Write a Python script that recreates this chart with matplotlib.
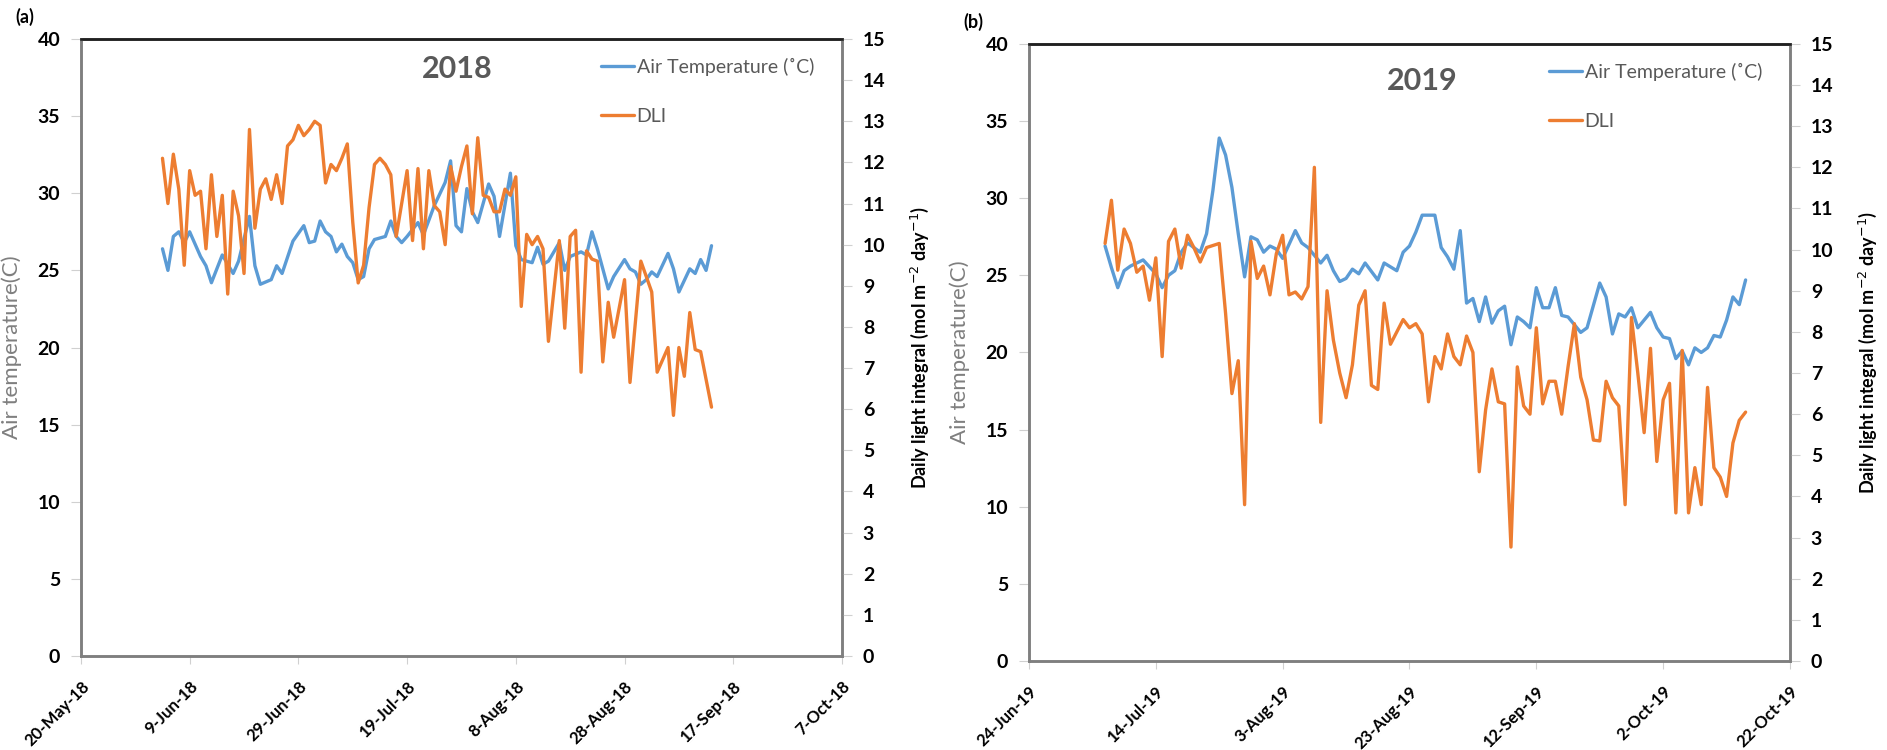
import matplotlib
matplotlib.use('Agg')
import matplotlib.pyplot as plt
import pandas as pd

plt.rcParams['font.family'] = ['Lato', 'DejaVu Sans']

# 2018: day offsets from 20-May-18
start18 = '2018-05-20'
temp18_day = [15, 16, 17, 18, 19, 20, 22, 23, 24, 26, 28, 29, 31, 32, 33, 35, 36, 37, 39, 41,
              42, 43, 44, 45, 46, 47, 48, 49, 50, 51, 52, 53, 54, 56, 57, 58, 59, 60, 62, 63,
              65, 67, 68, 69, 70, 71, 72, 73, 75, 76, 77, 79, 80, 81, 83, 84, 85, 86, 88, 89,
              90, 92, 93, 94, 95, 97, 98, 100, 101, 102, 103, 104, 105, 106, 108, 109, 110, 112,
              113, 114, 115, 116]
temp18 = [26.4, 25.0, 27.2, 27.5, 26.8, 27.5, 25.9, 25.3, 24.2, 26.0, 24.8, 25.6, 28.5, 25.3,
          24.1, 24.4, 25.3, 24.8, 26.9, 27.9, 26.8, 26.9, 28.2, 27.5, 27.2, 26.2, 26.7, 25.9,
          25.5, 24.4, 24.6, 26.4, 27.0, 27.2, 28.2, 27.2, 26.8, 27.2, 28.1, 27.3, 29.2, 30.7,
          32.1, 27.9, 27.5, 30.3, 28.8, 28.1, 30.6, 29.8, 27.2, 31.3, 26.6, 25.7, 25.5, 26.5,
          25.4, 25.6, 26.8, 25.0, 25.9, 26.2, 26.0, 27.5, 26.4, 23.8, 24.6, 25.7, 25.1, 24.9,
          24.1, 24.4, 24.9, 24.6, 26.1, 25.1, 23.6, 25.1, 24.8, 25.7, 25.0, 26.6]

dli18_day = [15, 16, 17, 18, 19, 20, 21, 22, 23, 24, 25, 26, 27, 28, 29, 30, 31, 32, 33, 34,
             35, 36, 37, 38, 39, 40, 41, 42, 43, 44, 45, 46, 47, 48, 49, 50, 51, 52, 53, 54,
             55, 56, 57, 58, 60, 61, 62, 63, 64, 65, 66, 67, 68, 69, 70, 71, 72, 73, 74, 75,
             76, 77, 78, 79, 80, 81, 82, 83, 84, 85, 86, 88, 89, 90, 91, 92, 93, 94, 95, 96,
             97, 98, 100, 101, 103, 105, 106, 108, 109, 110, 111, 112, 113, 114, 116]
dli18 = [12.1, 11.0, 12.2, 11.35, 9.5, 11.8, 11.2, 11.3, 9.9, 11.7, 10.2, 11.2, 8.8, 11.3,
         10.7, 9.3, 12.8, 10.4, 11.35, 11.6, 11.1, 11.7, 11.0, 12.4, 12.55, 12.9, 12.65, 12.8,
         13.0, 12.9, 11.5, 11.95, 11.8, 12.1, 12.45, 10.55, 9.07, 9.5, 10.9, 11.95, 12.1, 11.95,
         11.7, 10.2, 11.8, 10.1, 11.85, 9.9, 11.8, 10.95, 10.8, 10.0, 11.9, 11.3, 11.9, 12.4,
         10.75, 12.6, 11.2, 11.15, 10.8, 10.8, 11.35, 11.2, 11.65, 8.5, 10.25, 10.0, 10.2, 9.9,
         7.65, 10.1, 7.97, 10.2, 10.35, 6.9, 9.85, 9.65, 9.6, 7.15, 8.6, 7.75, 9.15, 6.65, 9.6,
         8.85, 6.9, 7.5, 5.85, 7.5, 6.8, 8.35, 7.45, 7.4, 6.05]

# 2019: day offsets from 24-Jun-19
start19 = '2019-06-24'
temp19_day = [12, 13, 14, 15, 16, 18, 20, 21, 22, 23, 24, 25, 26, 27, 28, 29, 30, 31, 32, 33,
              34, 35, 36, 37, 38, 39, 40, 42, 43, 44, 46, 47, 48, 49, 50, 51, 52, 53, 55, 56,
              58, 59, 60, 61, 62, 64, 65, 66, 67, 68, 69, 70, 71, 72, 73, 74, 75, 76, 77, 78,
              79, 80, 81, 82, 83, 84, 85, 87, 88, 90, 91, 92, 93, 94, 95, 96, 98, 99, 100, 101,
              102, 103, 104, 105, 106, 107, 108, 109, 110, 111, 112, 113]
temp19 = [26.9, 25.5, 24.2, 25.3, 25.6, 26.0, 25.1, 24.2, 25.0, 25.3, 26.5, 27.1, 26.8, 26.5,
          27.7, 30.5, 33.9, 32.8, 30.7, 27.7, 24.9, 27.5, 27.3, 26.5, 26.9, 26.7, 26.1, 27.9,
          27.1, 26.8, 25.8, 26.3, 25.3, 24.6, 24.8, 25.4, 25.1, 25.8, 24.7, 25.8, 25.3, 26.5,
          26.9, 27.8, 28.9, 28.9, 26.8, 26.2, 25.4, 27.9, 23.2, 23.5, 22.0, 23.6, 21.9, 22.7,
          23.0, 20.5, 22.3, 22.0, 21.6, 24.2, 22.9, 22.9, 24.2, 22.4, 22.3, 21.3, 21.6, 24.5,
          23.6, 21.2, 22.5, 22.3, 22.9, 21.6, 22.6, 21.6, 21.0, 20.9, 19.6, 20.1, 19.2, 20.3,
          20.0, 20.3, 21.1, 21.0, 22.1, 23.6, 23.1, 24.7]

dli19_day = list(range(12, 29)) + list(range(30, 114))
dli19 = [10.15, 11.2, 9.5, 10.5, 10.15, 9.45, 9.6, 8.77, 9.8, 7.4, 10.2, 10.5, 9.55, 10.35,
         10.05, 9.7, 10.05,
         10.15, 8.45, 6.5, 7.3, 3.8, 10.2, 9.3, 9.6, 8.9, 9.9, 10.35, 8.9, 8.97, 8.8, 9.1, 12.0,
         5.8, 9.0, 7.8, 7.0, 6.4, 7.2, 8.65, 9.0, 6.7, 6.6, 8.7, 7.7, 8.0, 8.3, 8.1, 8.2, 7.95,
         6.3, 7.4, 7.1, 7.95, 7.4, 7.2, 7.9, 7.5, 4.6, 6.1, 7.1, 6.3, 6.25, 2.77, 7.15, 6.2, 6.0,
         8.1, 6.25, 6.8, 6.8, 6.0, 7.15, 8.2, 6.9, 6.35, 5.37, 5.35, 6.8, 6.4, 6.2, 3.8, 8.35,
         7.0, 5.55, 7.6, 4.85, 6.35, 6.75, 3.6, 7.55, 3.6, 4.7, 3.8, 6.65, 4.7, 4.47, 4.0, 5.3,
         5.85, 6.05]

BLUE = '#5B9BD5'
ORANGE = '#ED7D31'
GRAY = '#595959'


def to_dates(start, days):
    return pd.Timestamp(start) + pd.to_timedelta(days, unit='D')


def panel(rect, start, n_days, tday, tval, dday, dval, year, title_xy, letter):
    ax = fig.add_axes(rect)
    ax2 = ax.twinx()
    t0 = pd.Timestamp(start)
    ax.plot(to_dates(start, tday), tval, color=BLUE, lw=2.4, solid_joinstyle='round',
            solid_capstyle='round', label='Air Temperature (˚C)')
    ax2.plot(to_dates(start, dday), dval, color=ORANGE, lw=2.4, solid_joinstyle='round',
             solid_capstyle='round', label='DLI')

    ax.set_xlim(t0, t0 + pd.Timedelta(days=n_days))
    ticks = [t0 + pd.Timedelta(days=d) for d in range(0, n_days + 1, 20)]
    ax.set_xticks(ticks)
    ax.set_xticklabels([f"{t.day}-{t.strftime('%b-%y')}" for t in ticks], rotation=45,
                       ha='right', rotation_mode='anchor', fontsize=12, fontweight='bold')
    ax.set_ylim(0, 40)
    ax.set_yticks(range(0, 41, 5))
    ax2.set_ylim(0, 15)
    ax2.set_yticks(range(0, 16))
    for a in (ax, ax2):
        a.tick_params(axis='y', labelsize=14, length=7, color='#d0d0d0', pad=8)
        for lab in a.get_yticklabels():
            lab.set_fontweight('bold')
    ax.tick_params(axis='x', length=6, color='#d0d0d0', pad=10)
    for a in (ax, ax2):
        for s in ('left', 'right', 'bottom'):
            a.spines[s].set_color('#7f7f7f')
            a.spines[s].set_linewidth(1.8)
        a.spines['top'].set_color('#202020')
        a.spines['top'].set_linewidth(1.8)

    ax.set_ylabel('Air temperature(C)', color='#7f7f7f', fontsize=16)
    ax.yaxis.set_label_coords(-0.078, 0.5)
    ax2.set_ylabel('Daily light integral (mol m$^{-2}$ day$^{-1}$)', fontsize=13,
                   fontweight='bold')
    ax2.yaxis.set_label_coords(1.088, 0.5)
    ax.text(title_xy[0], title_xy[1], year, transform=ax.transAxes, ha='center',
            va='center', fontsize=22, fontweight='bold', color=GRAY)
    ax.text(-0.086, 1.035, letter, transform=ax.transAxes, ha='left', va='center',
            fontsize=13, fontweight='bold')

    h1, l1 = ax.get_legend_handles_labels()
    h2, l2 = ax2.get_legend_handles_labels()
    leg = ax2.legend(h1 + h2, l1 + l2, loc='upper left', bbox_to_anchor=(0.67, 0.985),
                     frameon=False, fontsize=14, handlelength=1.7, handletextpad=0.15,
                     labelspacing=1.65, borderpad=0)
    for txt in leg.get_texts():
        txt.set_color(GRAY)
    return ax, ax2


fig = plt.figure(figsize=(18.87, 7.5), dpi=100)
panel([0.0429, 0.1253, 0.4033, 0.8227], start18, 140, temp18_day, temp18,
      dli18_day, dli18, '2018', (0.494, 0.951), '(a)')
panel([0.5453, 0.1187, 0.4033, 0.8227], start19, 120, temp19_day, temp19,
      dli19_day, dli19, '2019', (0.517, 0.94), '(b)')

fig.savefig('out.png', dpi=100)
